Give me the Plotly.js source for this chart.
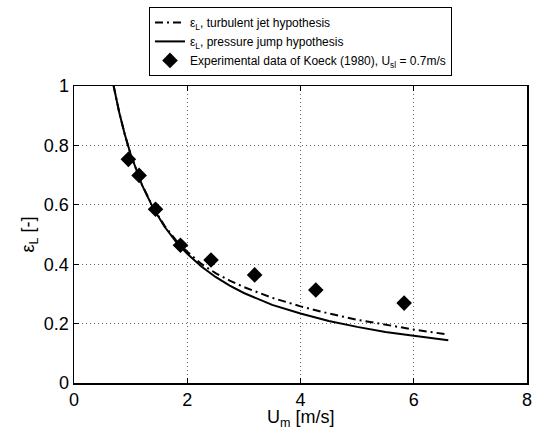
<!DOCTYPE html>
<html>
<head>
<meta charset="utf-8">
<script src="https://cdn.plot.ly/plotly-3.0.1.min.js"></script>
<style>html,body{margin:0;padding:0;background:#fff;}#chart{width:533px;height:437px;}</style>
</head>
<body>
<div id="chart"></div>
<script>
// Experimental data of Koeck (1980)
const expU = [0.96, 1.15, 1.44, 1.88, 2.42, 3.19, 4.27, 5.83];
const expEps = [0.753, 0.699, 0.585, 0.464, 0.414, 0.364, 0.313, 0.269];

// Pressure jump hypothesis (solid)
const pjU = [0.70, 0.80, 0.90, 1.00, 1.20, 1.40, 1.60, 1.80, 2.00, 2.25, 2.50, 2.75, 3.00, 3.50, 4.00, 4.50, 5.00, 5.50, 6.00, 6.61];
const pjEps = [1.000, 0.910, 0.835, 0.770, 0.667, 0.588, 0.526, 0.476, 0.435, 0.392, 0.357, 0.328, 0.303, 0.263, 0.234, 0.209, 0.189, 0.172, 0.159, 0.144];

// Turbulent jet hypothesis (dash-dot)
const tjU = [0.70, 0.80, 0.90, 1.00, 1.20, 1.40, 1.60, 1.80, 2.00, 2.25, 2.50, 2.75, 3.00, 3.50, 4.00, 4.50, 5.00, 5.50, 6.00, 6.61];
const tjEps = [1.000, 0.910, 0.835, 0.770, 0.668, 0.590, 0.529, 0.481, 0.442, 0.401, 0.370, 0.345, 0.323, 0.287, 0.258, 0.234, 0.213, 0.196, 0.180, 0.163];

const xTicks = [0, 2, 4, 6, 8];
const yTicks = [0, 0.2, 0.4, 0.6, 0.8, 1];
const xTitle = 'U<sub>m</sub> [m/s]';
const yTitle = 'ε<sub>L</sub> [-]';

const traces = [
  {x: tjU, y: tjEps, type: 'scatter', mode: 'lines',
   name: 'ε<sub>L</sub>, turbulent jet hypothesis',
   line: {color: '#000', width: 2, dash: '8px,4px,2px,4px'}},
  {x: pjU, y: pjEps, type: 'scatter', mode: 'lines',
   name: 'ε<sub>L</sub>, pressure jump hypothesis',
   line: {color: '#000', width: 2}},
  {x: expU, y: expEps, type: 'scatter', mode: 'markers',
   name: 'Experimental data of Koeck (1980), U<sub>sl</sub> = 0.7m/s',
   marker: {symbol: 'diamond', size: 12, color: '#000'}}
];

const axisCommon = {
  showline: true, linecolor: '#000', linewidth: 1.5, mirror: 'ticks',
  ticks: 'inside', ticklen: 5, tickcolor: '#000', tickwidth: 1,
  showgrid: true, gridcolor: '#666', griddash: '1px,3px', gridwidth: 1,
  zeroline: false, tickfont: {size: 18, color: '#000'}
};

const layout = {
  width: 533, height: 437,
  margin: {l: 74, r: 6, t: 86, b: 54},
  paper_bgcolor: '#fff', plot_bgcolor: '#fff',
  font: {family: 'Liberation Sans, Arial, sans-serif', color: '#000'},
  showlegend: true,
  legend: {x: 0.5, xanchor: 'center', y: 1.034, yanchor: 'bottom',
    bordercolor: '#000', borderwidth: 1, bgcolor: '#fff',
    font: {size: 12, color: '#000'}},
  xaxis: Object.assign({}, axisCommon, {
    range: [0, 8], tickvals: xTicks, ticktext: xTicks.map(String)
  }),
  yaxis: Object.assign({}, axisCommon, {
    range: [0, 1], tickvals: yTicks, ticktext: yTicks.map(String),
    title: {text: yTitle, font: {size: 18}, standoff: 4}
  }),
  annotations: [
    {text: xTitle, xref: 'paper', yref: 'paper', x: 0.5, y: -0.078,
     xanchor: 'center', yanchor: 'top', showarrow: false, borderpad: 0,
     font: {size: 18, color: '#000'}}
  ]
};

Plotly.newPlot('chart', traces, layout, {displayModeBar: false, staticPlot: true});
</script>
</body>
</html>
